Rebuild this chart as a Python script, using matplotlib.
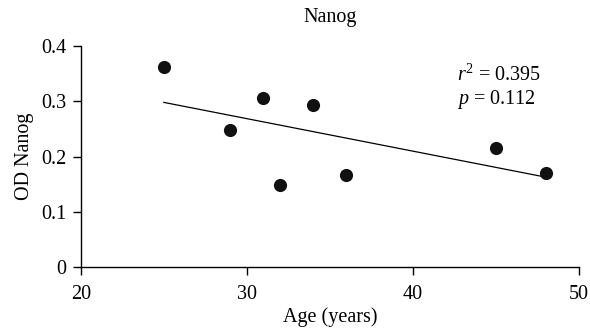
import numpy as np
import matplotlib.pyplot as plt

plt.rcParams['font.family'] = ['Liberation Serif', 'DejaVu Serif']
plt.rcParams['mathtext.fontset'] = 'custom'
plt.rcParams['mathtext.rm'] = 'Liberation Serif'
plt.rcParams['mathtext.it'] = 'Liberation Serif:italic'

# --- Data ---
age = np.array([25, 29, 31, 32, 34, 36, 45, 48])
od_nanog = np.array([0.363, 0.249, 0.306, 0.149, 0.294, 0.167, 0.216, 0.171])
x_ticks = [20, 30, 40, 50]
y_ticks = [0, 0.1, 0.2, 0.3, 0.4]
y_tick_labels = ["0", "0.1", "0.2", "0.3", "0.4"]
r_squared = 0.395
p_value = 0.112

# linear fit over the data range
slope, intercept = np.polyfit(age, od_nanog, 1)
fit_x = np.array([age.min(), age.max()])
fit_y = slope * fit_x + intercept

fig = plt.figure(figsize=(5.9, 3.34), dpi=100)
ax = fig.add_axes([0.137, 0.2, 0.844, 0.662])

ax.scatter(age, od_nanog, s=90, color="#111111", zorder=3, linewidths=0)
ax.plot(fit_x, fit_y, color="black", lw=0.9)

ax.set_xlim(20, 50)
ax.set_ylim(0, 0.4)
ax.set_xticks(x_ticks)
ax.set_yticks(y_ticks)
ax.set_yticklabels(y_tick_labels)

for s in ["top", "right"]:
    ax.spines[s].set_visible(False)
for s in ["left", "bottom"]:
    ax.spines[s].set_linewidth(1.0)
ax.tick_params(direction="out", length=5.5, width=1.0, labelsize=14.5)
ax.tick_params(axis="x", pad=7)
ax.tick_params(axis="y", pad=5)

ax.set_title("Nanog", fontsize=14.5, pad=17)
ax.set_xlabel("Age (years)", fontsize=14.5, labelpad=3)
ax.set_ylabel("OD Nanog", fontsize=14.5, labelpad=5)

ax.text(0.755, 0.869, f"$r^2$ = {r_squared:.3f}", transform=ax.transAxes,
        fontsize=14.5, va="center")
ax.text(0.755, 0.76, f"$p$ = {p_value:.3f}", transform=ax.transAxes,
        fontsize=14.5, va="center")

fig.savefig("out.png", dpi=100)
